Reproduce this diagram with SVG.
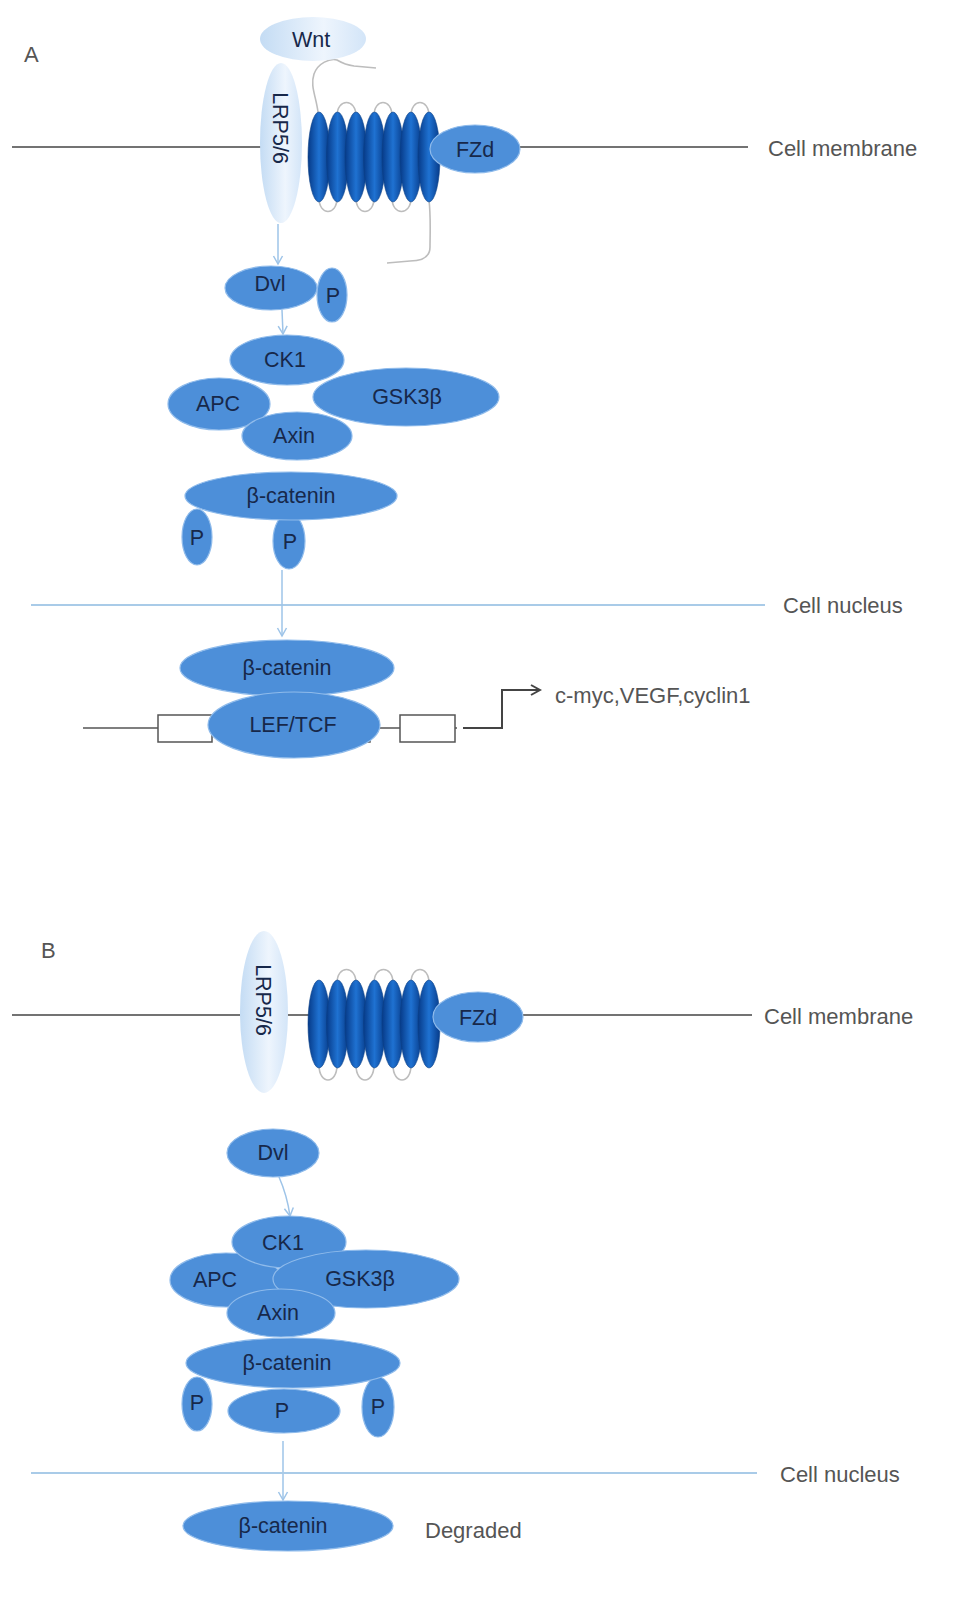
<svg xmlns="http://www.w3.org/2000/svg" width="978" height="1612" viewBox="0 0 978 1612">
<defs>
<linearGradient id="lightG" x1="0" y1="0" x2="1" y2="0">
<stop offset="0" stop-color="#c4dcf4"/>
<stop offset="0.6" stop-color="#eef5fd"/>
<stop offset="1" stop-color="#d3e5f8"/>
</linearGradient>
<linearGradient id="helixG" x1="0" y1="0" x2="1" y2="0">
<stop offset="0" stop-color="#063a88"/>
<stop offset="0.5" stop-color="#1f72d2"/>
<stop offset="1" stop-color="#063a88"/>
</linearGradient>
<marker id="arrB" viewBox="0 0 12 12" refX="10" refY="6" markerWidth="12" markerHeight="12" orient="auto" markerUnits="userSpaceOnUse">
<path d="M2,1.5 L10,6 L2,10.5" fill="none" stroke="#9ec4e8" stroke-width="1.5"/>
</marker>
<marker id="arrD" viewBox="0 0 14 14" refX="12" refY="7" markerWidth="14" markerHeight="14" orient="auto" markerUnits="userSpaceOnUse">
<path d="M3,2 L12,7 L3,12" fill="none" stroke="#444" stroke-width="2"/>
</marker>
</defs>
<style>
.node{fill:#4d8fd9;stroke:#8fbbeb;stroke-width:1.2}
.light{fill:url(#lightG);stroke:none}
.helix{fill:url(#helixG);stroke:#0a3f86;stroke-width:0.6}
.loop{fill:none;stroke:#bdbdbd;stroke-width:1.6}
.t{font-family:"Liberation Sans",Arial,sans-serif;font-size:21.5px;fill:#17284a;text-anchor:middle}
.lab{font-family:"Liberation Sans",Arial,sans-serif;font-size:22px;fill:#555}
.mem{stroke:#737373;stroke-width:2;fill:none}
.nuc{stroke:#a9cbe8;stroke-width:2;fill:none}
.conn{stroke:#9ec4e8;stroke-width:1.5;fill:none}
.dna{stroke:#555;stroke-width:1.5;fill:none}
.box{fill:#fff;stroke:#555;stroke-width:1.5}
</style>
<rect width="978" height="1612" fill="#fff"/>

<!-- ===== Panel A ===== -->
<text class="lab" x="24" y="62" font-size="21">A</text>
<g id="membraneA">
<line class="mem" x1="12" y1="147" x2="262" y2="147"/>
<line class="mem" x1="515" y1="147" x2="748" y2="147"/>
<text class="lab" x="768" y="156">Cell membrane</text>
</g>
<g id="nucleusA">
<line class="nuc" x1="31" y1="605" x2="765" y2="605"/>
<text class="lab" x="783" y="613">Cell nucleus</text>
</g>

<g id="fzdA">
<path class="loop" d="M318,112 C316,96 310,86 314,74 C318,63 330,58 337,60 C342,63 346,65 354,66 L376,68"/>
<path class="loop" d="M429,200 C431,218 430,235 430,247 C430,258 420,261 410,261 L387,263"/>
<path class="loop" d="M337,116 C337,98 356,98 356,116"/>
<path class="loop" d="M374,116 C374,98 392,98 392,116"/>
<path class="loop" d="M411,116 C411,98 429,98 429,116"/>
<path class="loop" d="M319,198 C319,216 337,216 337,198"/>
<path class="loop" d="M356,198 C356,216 374,216 374,198"/>
<path class="loop" d="M392,198 C392,216 411,216 411,198"/>
<ellipse class="helix" cx="319" cy="157" rx="11" ry="45"/>
<ellipse class="helix" cx="337.5" cy="157" rx="11" ry="45"/>
<ellipse class="helix" cx="356" cy="157" rx="11" ry="45"/>
<ellipse class="helix" cx="374.5" cy="157" rx="11" ry="45"/>
<ellipse class="helix" cx="393" cy="157" rx="11" ry="45"/>
<ellipse class="helix" cx="411" cy="157" rx="11" ry="45"/>
<ellipse class="helix" cx="429" cy="157" rx="11" ry="45"/>
<ellipse class="node" cx="475" cy="149" rx="45" ry="24"/>
<text class="t" x="475" y="157">FZd</text>
</g>
<g id="wntA">
<ellipse class="light" cx="313" cy="39" rx="53" ry="22"/>
<text class="t" x="311" y="47">Wnt</text>
</g>
<g id="lrpA">
<ellipse class="light" cx="281" cy="143" rx="21" ry="80"/>
<text class="t" x="280" y="128" transform="rotate(90 280 128)" dy="7">LRP5/6</text>
</g>

<g id="dvlA">
<ellipse class="node" cx="332" cy="295" rx="15" ry="27"/>
<text class="t" x="333" y="303">P</text>
<ellipse class="node" cx="271" cy="288" rx="46" ry="22"/>
<text class="t" x="270" y="291">Dvl</text>
</g>
<g id="complexA">
<ellipse class="node" cx="406" cy="397" rx="93" ry="29"/>
<text class="t" x="407" y="404">GSK3β</text>
<ellipse class="node" cx="287" cy="360" rx="57" ry="25"/>
<text class="t" x="285" y="367">CK1</text>
<ellipse class="node" cx="219" cy="404" rx="51" ry="26"/>
<text class="t" x="218" y="411">APC</text>
<ellipse class="node" cx="297" cy="436" rx="55" ry="24"/>
<text class="t" x="294" y="443">Axin</text>
</g>
<g id="bcatA">
<ellipse class="node" cx="197" cy="537" rx="15" ry="28"/>
<text class="t" x="197" y="545">P</text>
<ellipse class="node" cx="289" cy="541" rx="16" ry="28"/>
<text class="t" x="290" y="549">P</text>
<ellipse class="node" cx="291" cy="496" rx="106" ry="24"/>
<text class="t" x="291" y="503">β-catenin</text>
</g>

<g id="dnaA">
<line class="dna" x1="83" y1="728" x2="465" y2="728"/>
<rect class="box" x="158" y="715" width="54" height="27"/>
<rect class="box" x="322" y="715" width="48" height="27"/>
<rect class="box" x="400" y="715" width="55" height="27"/>
<line x1="457" y1="728" x2="465" y2="728" stroke="#fff" stroke-width="3"/>
</g>
<g id="nucA">
<ellipse class="node" cx="287" cy="668" rx="107" ry="28"/>
<text class="t" x="287" y="675">β-catenin</text>
<ellipse class="node" cx="294" cy="725" rx="86" ry="33"/>
<text class="t" x="293" y="732">LEF/TCF</text>
</g>
<text class="lab" x="555" y="703">c-myc,VEGF,cyclin1</text>

<g id="connectors">
<line class="conn" x1="278" y1="224" x2="278" y2="264" marker-end="url(#arrB)"/>
<line class="conn" x1="282" y1="310" x2="283" y2="334" marker-end="url(#arrB)"/>
<line class="conn" x1="282" y1="570" x2="282" y2="636" marker-end="url(#arrB)"/>
<path d="M463,728 L502,728 L502,690 L540,690" fill="none" stroke="#444" stroke-width="2" marker-end="url(#arrD)"/>
<path class="conn" d="M279,1177 Q287,1195 290,1216" marker-end="url(#arrB)"/>
<line class="conn" x1="283" y1="1441" x2="283" y2="1500" marker-end="url(#arrB)"/>
</g>

<!-- ===== Panel B ===== -->
<text class="lab" x="41" y="958" font-size="21">B</text>
<g id="membraneB">
<line class="mem" x1="12" y1="1015" x2="244" y2="1015"/>
<line class="mem" x1="284" y1="1015" x2="320" y2="1015"/>
<line class="mem" x1="515" y1="1015" x2="752" y2="1015"/>
<text class="lab" x="764" y="1024">Cell membrane</text>
</g>
<g id="nucleusB">
<line class="nuc" x1="31" y1="1473" x2="757" y2="1473"/>
<text class="lab" x="780" y="1482">Cell nucleus</text>
</g>
<g id="fzdB">
<path class="loop" d="M337,983 C337,965 356,965 356,983"/>
<path class="loop" d="M374,983 C374,965 393,965 393,983"/>
<path class="loop" d="M411,983 C411,965 429,965 429,983"/>
<path class="loop" d="M319,1065 C319,1085 337,1085 337,1065"/>
<path class="loop" d="M356,1065 C356,1085 374,1085 374,1065"/>
<path class="loop" d="M393,1065 C393,1085 411,1085 411,1065"/>
<ellipse class="helix" cx="319" cy="1024" rx="11" ry="44"/>
<ellipse class="helix" cx="337.5" cy="1024" rx="11" ry="44"/>
<ellipse class="helix" cx="356" cy="1024" rx="11" ry="44"/>
<ellipse class="helix" cx="374.5" cy="1024" rx="11" ry="44"/>
<ellipse class="helix" cx="393" cy="1024" rx="11" ry="44"/>
<ellipse class="helix" cx="411" cy="1024" rx="11" ry="44"/>
<ellipse class="helix" cx="429" cy="1024" rx="11" ry="44"/>
<ellipse class="node" cx="478" cy="1017" rx="45" ry="25"/>
<text class="t" x="478" y="1025">FZd</text>
</g>
<g id="lrpB">
<ellipse class="light" cx="264" cy="1012" rx="24" ry="81"/>
<text class="t" x="263" y="1000" transform="rotate(90 263 1000)" dy="7">LRP5/6</text>
</g>
<g id="dvlB">
<ellipse class="node" cx="273" cy="1153" rx="46" ry="24"/>
<text class="t" x="273" y="1160">Dvl</text>
</g>
<g id="complexB">
<ellipse class="node" cx="226" cy="1280" rx="56" ry="27"/>
<text class="t" x="215" y="1287">APC</text>
<ellipse class="node" cx="289" cy="1242" rx="57" ry="26"/>
<text class="t" x="283" y="1250">CK1</text>
<ellipse class="node" cx="366" cy="1279" rx="93" ry="29"/>
<text class="t" x="360" y="1286">GSK3β</text>
<ellipse class="node" cx="281" cy="1313" rx="54" ry="24"/>
<text class="t" x="278" y="1320">Axin</text>
</g>
<g id="bcatB">
<ellipse class="node" cx="197" cy="1404" rx="15" ry="27"/>
<text class="t" x="197" y="1410">P</text>
<ellipse class="node" cx="284" cy="1411" rx="56" ry="22"/>
<text class="t" x="282" y="1418">P</text>
<ellipse class="node" cx="378" cy="1407" rx="16" ry="30"/>
<text class="t" x="378" y="1414">P</text>
<ellipse class="node" cx="293" cy="1363" rx="107" ry="25"/>
<text class="t" x="287" y="1370">β-catenin</text>
</g>
<g id="degB">
<ellipse class="node" cx="288" cy="1526" rx="105" ry="25"/>
<text class="t" x="283" y="1533">β-catenin</text>
<text class="lab" x="425" y="1538">Degraded</text>
</g>
</svg>
